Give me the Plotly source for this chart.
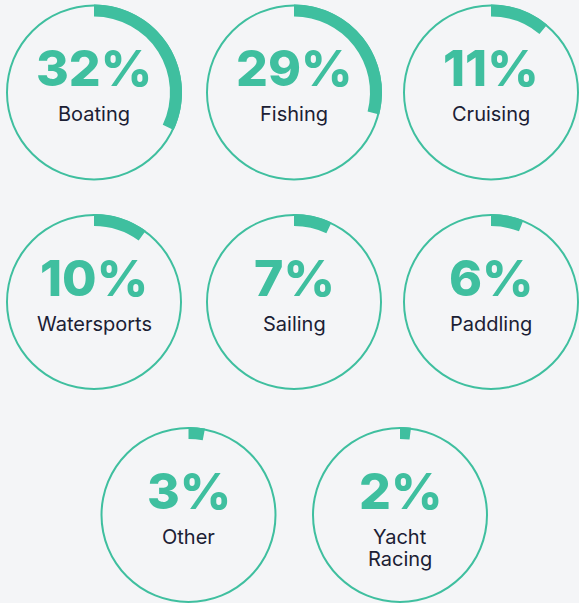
import plotly.graph_objects as go

# ---- data ----
categories = ["Boating", "Fishing", "Cruising", "Watersports", "Sailing", "Paddling", "Other", "Yacht<br>Racing"]
shares = [32, 29, 11, 10, 7, 6, 3, 2]

# ---- layout (pixel positions of ring centres) ----
W, H = 579, 603
centers = [(94, 92.5), (294, 92.5), (491, 92.5),
           (94, 302), (294, 302), (491, 302),
           (188.5, 515), (400, 515)]
R = 88
ARC_W = 12
RING_W = 2.0
LINE_GAP = 22

TEAL = "#3FBF9F"
NAVY = "#1B2034"
BG = "#F4F5F7"

fig = go.Figure()
annotations = []
for cat, val, (cx, cy) in zip(categories, shares, centers):
    dom = dict(x=[(cx - R) / W, (cx + R) / W],
               y=[1 - (cy + R) / H, 1 - (cy - R) / H])
    # thin full ring
    fig.add_trace(go.Pie(values=[100], marker=dict(colors=[TEAL], line=dict(width=0)),
                         hole=(R - RING_W) / R, domain=dom, sort=False,
                         direction="clockwise", textinfo="none", hoverinfo="skip",
                         showlegend=False))
    # thick arc for the share
    fig.add_trace(go.Pie(values=[val, 100 - val],
                         marker=dict(colors=[TEAL, "rgba(0,0,0,0)"], line=dict(width=0)),
                         hole=(R - ARC_W) / R, domain=dom, sort=False,
                         direction="clockwise", rotation=0, textinfo="none",
                         hoverinfo="skip", showlegend=False))
    annotations.append(dict(x=cx / W, y=1 - (cy - 24) / H, xref="paper", yref="paper",
                            text=f"{val}%", showarrow=False, xanchor="center", yanchor="middle",
                            font=dict(family="Inter", size=50, color=TEAL, weight=800)))
    for i, line in enumerate(cat.split("<br>")):
        annotations.append(dict(x=cx / W, y=1 - (cy + 22 + LINE_GAP * i) / H,
                                xref="paper", yref="paper",
                                text=line, showarrow=False, xanchor="center", yanchor="middle",
                                font=dict(family="Inter", size=20, color=NAVY)))

fig.update_layout(width=W, height=H, margin=dict(l=0, r=0, t=0, b=0),
                  paper_bgcolor=BG, plot_bgcolor=BG, annotations=annotations)
fig.write_html("out.html", config={"displayModeBar": False},
               post_script="document.body.style.margin='0';document.body.style.background='#F4F5F7';")
